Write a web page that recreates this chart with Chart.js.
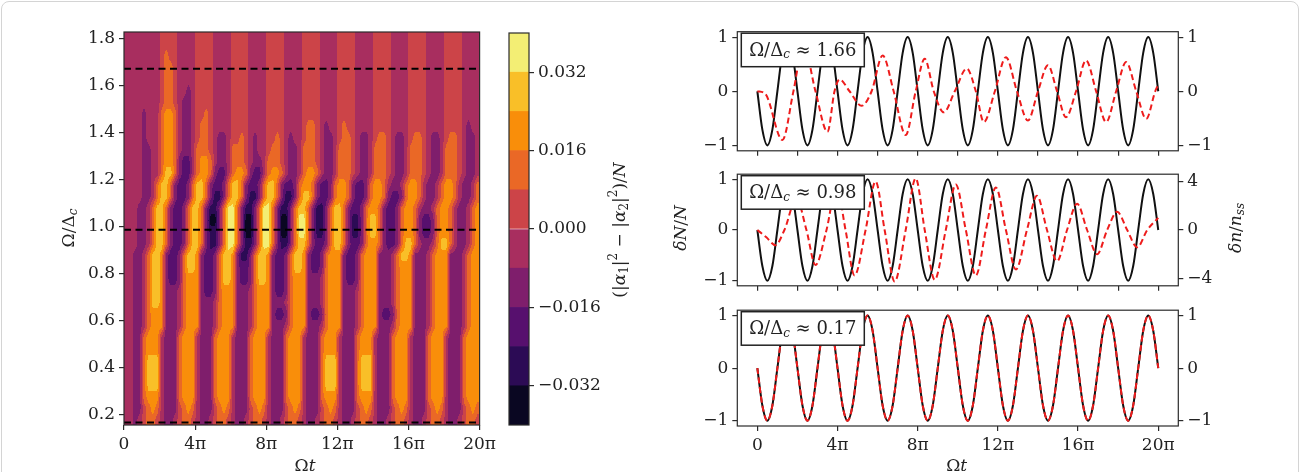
<!DOCTYPE html>
<html>
<head>
<meta charset="utf-8">
<script src="https://cdn.jsdelivr.net/npm/chart.js@4.4.1/dist/chart.umd.min.js"></script>
<style>
  html, body { margin: 0; padding: 0; background: #fff; }
  #fig { position: relative; width: 1300px; height: 472px; overflow: hidden; background: #fff; }
  #fig canvas { position: absolute; }
  #frame { position: absolute; left: 1px; top: 1px; width: 1296px; height: 490px; border: 1px solid #d4d4d4; border-radius: 8px; pointer-events: none; }
</style>
</head>
<body>
<div id="fig">
  <canvas id="heat" width="500" height="490" style="left:0;top:0"></canvas>
  <canvas id="cbar" width="160" height="472" style="left:500px;top:0"></canvas>
  <canvas id="top" width="640" height="165" style="left:660px;top:0"></canvas>
  <canvas id="mid" width="640" height="140" style="left:660px;top:160px"></canvas>
  <canvas id="bot" width="640" height="194" style="left:660px;top:296px"></canvas>
  <div id="frame"></div>
</div>
<script>
"use strict";

// ---- data (time in units of pi) ----

// heat map: one string per row (top row first), one digit per cell = contour band index (0 = lowest)
const hmOmegaLow = [1.80, 1.75, 1.70, 1.65, 1.60, 1.55, 1.50, 1.45, 1.40, 1.35, 1.30, 1.25,
  1.20, 1.15, 1.10, 1.05, 1.00, 0.95, 0.90, 0.85, 0.80, 0.75, 0.70, 0.65, 0.60, 0.55,
  0.50, 0.45, 0.40, 0.35, 0.30, 0.25, 0.20, 0.15];
const hmOmegaStep = 0.05;
const hmTimeStep = 0.25;
const hmRows = [
  "44444444 55554444 55554444 55554444 55554444 55554444 55554444 55554444 55554444 55554444",
  "44444444 55554444 55554444 55554444 55554444 55554444 55554444 55554444 55554444 55554444",
  "44444444 56554444 55554444 55554444 55554444 55554444 55554444 55554444 55554444 55554444",
  "44444444 56654444 55554444 55554444 55554444 55554444 55554444 55554444 55554444 55554444",
  "44444444 56654444 55554444 55554444 55554444 55554444 55554444 55554444 55554444 55554444",
  "44444444 56654434 55554444 55554444 55554444 55554444 55554444 55554444 55554444 55554444",
  "44444444 56654334 55554444 55554444 55554444 55554444 55554444 55554444 55554444 55554444",
  "44443444 67764334 55654444 55554444 55554444 55554444 55554444 55554444 55554444 55554444",
  "44443444 67764334 56654444 55554444 55554444 56654344 56554444 55554444 55554444 55554344",
  "44443444 67764334 56654334 55654344 55654344 56654334 56654334 56654334 56654334 56654334",
  "44443344 67764334 66654334 66654344 56654334 66654334 66654334 66654334 66654334 66654334",
  "44443344 67763224 67764334 66654334 66654334 66654334 66654334 66654334 66654334 66654334",
  "44443344 68863224 67763224 67763224 67764334 67764334 66654334 66654334 66654334 66654334",
  "44443346 88632236 88632236 88632236 88632236 77632236 77632236 77643346 77643346 77643346",
  "44443346 88632236 88631136 88631136 88631136 88632236 77632236 77632236 77643346 77643346",
  "44433468 86322368 86311369 96311369 96311368 86311368 86322367 76322367 76433467 76433467",
  "44433468 86322368 86300369 96300369 96300369 96311368 86311368 86322367 76322367 76433467",
  "44433468 86322368 86311369 96300369 96300369 96311368 86311368 86322367 76322367 76433467",
  "44433468 86322368 86311369 96311369 96311368 86322368 86322367 76322368 86433468 86433467",
  "44334688 73223688 73223688 73113688 73223688 73223677 73223677 73334688 73334677 73334677",
  "44334688 73223688 73223688 73223688 73223688 73223677 73223677 73334677 73334677 73334677",
  "44334688 73223677 73223688 73223688 73223677 73334677 73223677 73334677 73334677 73334677",
  "44334688 73334677 73223677 73334677 73223677 73334677 73334677 73334677 73334677 73334677",
  "44334688 73334677 73334677 73334677 73334677 73334677 73334677 73334677 73334677 73334677",
  "44334677 73334677 73334677 73334677 73223677 73223677 73334677 73223677 73334677 73334677",
  "44334677 73334677 73334677 73334677 73334677 73334677 73334677 73334677 73334677 73334677",
  "44336777 43336777 43336777 43336777 43336777 43336777 43336777 43336777 43336777 43336777",
  "44336777 43336777 43336777 43336777 43336777 43336777 43336777 43336777 43336777 43336777",
  "44336888 43336777 43336777 43336777 43336777 43336888 43336888 43336777 43336777 43336777",
  "44336888 43336777 43336777 43336777 43336777 43336888 43336888 43336777 43336777 43336777",
  "44336888 43336777 43336777 43336777 43336777 43336888 43336888 43336777 43336777 43336777",
  "44336777 43336777 43336777 43336777 43336777 43336777 43336777 43336777 43336777 43336777",
  "44335676 43335676 43335676 43335676 43335676 43335676 43335676 43335676 43335676 43335676",
  "44345665 43345665 43345665 43345665 43345665 43345665 43345665 43345665 43345665 43345665"
];
const dashOmegas = [1.67, 0.985, 0.165];
const hmXTicks = [0, 4, 8, 12, 16, 20];
const hmXLabels = ["0", "4π", "8π", "12π", "16π", "20π"];
const hmYTicks = [0.2, 0.4, 0.6, 0.8, 1.0, 1.2, 1.4, 1.6, 1.8];

// colour bar
const cbLevels = [-0.04, -0.032, -0.024, -0.016, -0.008, 0, 0.008, 0.016, 0.024, 0.032, 0.04];
const cbTicks = [-0.032, -0.016, 0, 0.016, 0.032];
const levelColors = ["#0a0722", "#2c0b55", "#57106e", "#7f1e6c", "#a82e5f",
  "#cc4448", "#ea6826", "#f98e0a", "#f9bf28", "#f3ee74"];

// right panels: black curve dN/N, sampled every pi/4
const blackVals = [
  0, -0.71, -1, -0.71, 0, 0.71, 1, 0.71,
  0, -0.71, -1, -0.71, 0, 0.71, 1, 0.71,
  0, -0.71, -1, -0.71, 0, 0.71, 1, 0.71,
  0, -0.71, -1, -0.71, 0, 0.71, 1, 0.71,
  0, -0.71, -1, -0.71, 0, 0.71, 1, 0.71,
  0, -0.71, -1, -0.71, 0, 0.71, 1, 0.71,
  0, -0.71, -1, -0.71, 0, 0.71, 1, 0.71,
  0, -0.71, -1, -0.71, 0, 0.71, 1, 0.71,
  0, -0.71, -1, -0.71, 0, 0.71, 1, 0.71,
  0, -0.71, -1, -0.71, 0, 0.71, 1, 0.71,
  0
];
const blackStep = 0.25;

// red dashed dn/n_ss, extrema and zero crossings
const redTopT = [0, 0.4, 1.25, 1.8, 2.3, 2.9, 3.5, 3.85, 4.1, 4.6, 5.2, 5.7, 6.25, 6.8, 7.4, 7.9,
  8.35, 8.8, 9.3, 9.85, 10.45, 10.9, 11.3, 11.85, 12.4, 12.95, 13.5, 14.0, 14.5, 14.95, 15.4,
  15.9, 16.4, 16.9, 17.4, 17.9, 18.4, 18.9, 19.4, 19.85, 20];
const redTopV = [0, -0.05, -0.9, 0, 0.85, 0, -0.75, 0, 0.22, 0, -0.27, 0, 0.66, 0, -0.81, 0,
  0.6, 0, -0.39, 0, 0.42, 0, -0.57, 0, 0.63, 0, -0.54, 0, 0.48, 0, -0.48,
  0, 0.57, 0, -0.57, 0, 0.54, 0, -0.51, 0, 0.12];
const redMidT = [0, 0.45, 0.9, 1.35, 1.95, 2.45, 2.9, 3.45, 3.95, 4.4, 4.85, 5.4, 5.9, 6.35, 6.85,
  7.4, 7.9, 8.35, 8.85, 9.4, 9.9, 10.4, 10.9, 11.4, 11.9, 12.4, 12.9, 13.45, 13.95, 14.45,
  14.95, 15.45, 15.95, 16.45, 16.95, 17.45, 17.95, 18.45, 18.95, 19.45, 20];
const redMidV = [0, -0.6, -1.25, 0, 2.6, 0, -2.88, 0, 3.6, 0, -3.75, 0, 4.0, 0, -4.25,
  0, 4.25, 0, -4.1, 0, 3.75, 0, -3.75, 0, 3.5, 0, -3.25, 0, 2.82, 0,
  -2.58, 0, 2.17, 0, -2.0, 0, 1.5, 0, -1.43, 0, 1.0];

const panelRatios = ["1.66", "0.98", "0.17"];
const sideTicks = [-1, 0, 1];
const midRightTicks = [-4, 0, 4];
const panelMinorX = [0, 2, 4, 6, 8, 10, 12, 14, 16, 18, 20];

// ---- drawing ----
Chart.defaults.font.family = '"DejaVu Serif", serif';
Chart.defaults.font.size = 17;
Chart.defaults.color = "#222";
Chart.defaults.animation = false;

const INK = "#2b2b2b";
const F = '17px "DejaVu Serif"';
const FI = 'italic 17px "DejaVu Serif"';
const FS = '12px "DejaVu Serif"';
const FSI = 'italic 12px "DejaVu Serif"';

const tickGrid = { drawOnChartArea: false, drawTicks: true, tickLength: 5, color: INK, lineWidth: 1.2 };
const minus = (s) => s.replace("-", "−");

function drawRich(ctx, parts, cx, cy, rot) {
  ctx.save();
  ctx.translate(cx, cy);
  ctx.rotate(rot || 0);
  ctx.textBaseline = "middle";
  ctx.textAlign = "left";
  ctx.fillStyle = "#222";
  let w = 0;
  parts.forEach((p) => { ctx.font = p.f; w += ctx.measureText(p.t).width; });
  let xx = -w / 2;
  parts.forEach((p) => {
    ctx.font = p.f;
    ctx.fillText(p.t, xx, p.dy || 0);
    xx += ctx.measureText(p.t).width;
  });
  ctx.restore();
}

const titles = (list) => ({
  id: "titles",
  afterDraw(chart) {
    list.forEach((t) => drawRich(chart.ctx, t.parts, t.x, t.y, t.rot));
  }
});

const frame = {
  id: "frame",
  afterDraw(chart) {
    const { ctx, chartArea: a } = chart;
    ctx.save();
    ctx.strokeStyle = INK;
    ctx.lineWidth = 1.2;
    ctx.strokeRect(a.left, a.top, a.width, a.height);
    ctx.restore();
  }
};

// filled contours: each pixel of the plot area is mapped back to (t, Omega) through the
// chart scales, the band index is taken bilinearly from the cell centres and rounded
const heatCells = {
  id: "heatCells",
  beforeDatasetsDraw(chart) {
    const { ctx, chartArea: a, scales: { x, y } } = chart;
    const grid = hmRows.map((r) => r.replace(/ /g, "").split("").map(Number));
    const nR = grid.length, nC = grid[0].length;
    const rgb = levelColors.map((h) => [1, 3, 5].map((k) => parseInt(h.slice(k, k + 2), 16)));
    const L = Math.round(a.left), T = Math.round(a.top);
    const W = Math.round(a.right) - L, H = Math.round(a.bottom) - T;
    const img = ctx.createImageData(W, H);
    const topCentre = hmOmegaLow[0] + hmOmegaStep / 2;
    const clamp = (v, lo, hi) => Math.max(lo, Math.min(hi, v));
    for (let py = 0; py < H; py++) {
      const w = y.getValueForPixel(T + py + 0.5);
      const fr = clamp((topCentre - w) / hmOmegaStep, 0, nR - 1);
      const r0 = Math.floor(fr), r1 = Math.min(r0 + 1, nR - 1), dr = fr - r0;
      for (let px = 0; px < W; px++) {
        const t = x.getValueForPixel(L + px + 0.5);
        const fc = clamp(t / hmTimeStep - 0.5, 0, nC - 1);
        const c0 = Math.floor(fc), c1 = Math.min(c0 + 1, nC - 1), dc = fc - c0;
        const v = (1 - dr) * ((1 - dc) * grid[r0][c0] + dc * grid[r0][c1]) +
          dr * ((1 - dc) * grid[r1][c0] + dc * grid[r1][c1]);
        const col = rgb[clamp(Math.round(v), 0, 9)];
        const k = (py * W + px) * 4;
        img.data[k] = col[0];
        img.data[k + 1] = col[1];
        img.data[k + 2] = col[2];
        img.data[k + 3] = 255;
      }
    }
    ctx.putImageData(img, L, T);
  }
};

const omegaDelta = [{ t: "Ω/Δ", f: F }, { t: "c", f: FSI, dy: 4 }];
const omegaT = [{ t: "Ω", f: F }, { t: "t", f: FI }];

new Chart(document.getElementById("heat"), {
  type: "scatter",
  data: {
    datasets: dashOmegas.map((w) => ({
      data: [{ x: 0, y: w }, { x: 20, y: w }],
      showLine: true, borderColor: "#000", borderWidth: 2, borderDash: [7, 4.5], pointRadius: 0
    }))
  },
  options: {
    responsive: false, events: [],
    layout: { padding: { left: 0, right: 14, top: 32, bottom: 0 } },
    plugins: { legend: { display: false }, tooltip: { enabled: false } },
    scales: {
      x: {
        type: "linear", min: 0, max: 20,
        afterBuildTicks: (s) => { s.ticks = hmXTicks.map((v) => ({ value: v })); },
        ticks: { padding: 4, maxRotation: 0, autoSkip: false, callback: (v, i) => hmXLabels[i] },
        grid: tickGrid, border: { display: false },
        afterFit: (s) => { s.height = 65; }
      },
      y: {
        min: 0.154, max: 1.826,
        afterBuildTicks: (s) => { s.ticks = hmYTicks.map((v) => ({ value: v })); },
        ticks: { padding: 4, autoSkip: false, callback: (v) => v.toFixed(1) },
        grid: tickGrid, border: { display: false },
        afterFit: (s) => { s.width = 124; }
      }
    }
  },
  plugins: [heatCells, frame, titles([
    { parts: omegaDelta, x: 70, y: 228, rot: -Math.PI / 2 },
    { parts: omegaT, x: 305, y: 467 }
  ])]
});

// colour bar
const cbLabel = [
  { t: "(|", f: F }, { t: "α", f: FI }, { t: "1", f: FS, dy: 4 }, { t: "|", f: F }, { t: "2", f: FS, dy: -7 },
  { t: " − |", f: F }, { t: "α", f: FI }, { t: "2", f: FS, dy: 4 }, { t: "|", f: F }, { t: "2", f: FS, dy: -7 },
  { t: ")/", f: F }, { t: "N", f: FI }
];
new Chart(document.getElementById("cbar"), {
  type: "bar",
  data: {
    labels: [""],
    datasets: cbLevels.slice(0, -1).map((lo, i) => ({
      data: [[lo, cbLevels[i + 1]]],
      backgroundColor: levelColors[i], borderWidth: 0,
      barPercentage: 1, categoryPercentage: 1, grouped: false
    }))
  },
  options: {
    responsive: false, events: [],
    layout: { padding: { left: 9, right: 0, top: 33, bottom: 47 } },
    plugins: { legend: { display: false }, tooltip: { enabled: false } },
    scales: {
      x: { display: false },
      y: {
        position: "right", min: -0.04, max: 0.04,
        afterBuildTicks: (s) => { s.ticks = cbTicks.map((v) => ({ value: v })); },
        ticks: { padding: 4, autoSkip: false, callback: (v) => minus(v.toFixed(3)) },
        grid: tickGrid, border: { display: false },
        afterFit: (s) => { s.width = 131; }
      }
    }
  },
  plugins: [frame, titles([{ parts: cbLabel, x: 121, y: 230, rot: -Math.PI / 2 }])]
});

// right panels
const FB = '18px "DejaVu Serif"';
const ratioBox = (ratio) => ({
  id: "ratioBox",
  afterDraw(chart) {
    const { ctx, chartArea: a } = chart;
    const bx = a.left + 4, by = a.top + 1.5, bw = 123, bh = 33.5;
    ctx.save();
    ctx.fillStyle = "#fff";
    ctx.fillRect(bx, by, bw, bh);
    ctx.strokeStyle = "#222";
    ctx.lineWidth = 1.5;
    ctx.strokeRect(bx, by, bw, bh);
    ctx.restore();
    drawRich(ctx, [{ t: "Ω/Δ", f: FB }, { t: "c", f: FSI, dy: 4 }, { t: " ≈ " + ratio, f: FB }],
      bx + bw / 2, by + bh / 2 + 1);
  }
});

function panel(id, cfg) {
  const blackPts = blackVals.map((v, i) => ({ x: i * blackStep, y: v }));
  return new Chart(document.getElementById(id), {
    type: "line",
    data: {
      datasets: [
        { data: cfg.red, yAxisID: "y2", borderColor: "#ee1c1c", borderWidth: 2, borderDash: [6, 3.5],
          pointRadius: 0, cubicInterpolationMode: "monotone" },
        { data: blackPts, yAxisID: "y", borderColor: "#111", borderWidth: 2,
          pointRadius: 0, cubicInterpolationMode: "monotone" }
      ]
    },
    options: {
      responsive: false, events: [],
      layout: { padding: { left: 0, right: 61.7, top: cfg.padTop, bottom: 0 } },
      plugins: { legend: { display: false }, tooltip: { enabled: false } },
      scales: {
        x: {
          type: "linear", min: -1, max: 21,
          afterBuildTicks: (s) => { s.ticks = cfg.xTicks.map((v) => ({ value: v })); },
          ticks: { display: cfg.xLabels !== null, padding: 4, maxRotation: 0, autoSkip: false,
            callback: (v, i) => (cfg.xLabels ? cfg.xLabels[i] : "") },
          grid: tickGrid, border: { display: false },
          afterFit: (s) => { s.height = cfg.xHeight; }
        },
        y: {
          position: "left", min: -1.1, max: 1.1,
          afterBuildTicks: (s) => { s.ticks = sideTicks.map((v) => ({ value: v })); },
          ticks: { padding: 4, callback: (v) => minus(String(v)) },
          grid: tickGrid, border: { display: false },
          afterFit: (s) => { s.width = 77.3; }
        },
        y2: {
          position: "right", min: -cfg.rightMax, max: cfg.rightMax,
          afterBuildTicks: (s) => { s.ticks = cfg.rightTicks.map((v) => ({ value: v })); },
          ticks: { padding: 4, callback: (v) => minus(String(v)) },
          grid: tickGrid, border: { display: false },
          afterFit: (s) => { s.width = 60; }
        }
      }
    },
    plugins: [frame, ratioBox(cfg.ratio), titles(cfg.titles || [])]
  });
}

const zip = (ts, vs) => ts.map((t, i) => ({ x: t, y: vs[i] }));

panel("top", {
  red: zip(redTopT, redTopV), padTop: 31.7, xHeight: 10.7, xTicks: panelMinorX, xLabels: null,
  rightMax: 1.1, rightTicks: sideTicks, ratio: panelRatios[0]
});
panel("mid", {
  red: zip(redMidT, redMidV), padTop: 7.3, xHeight: 10.7, xTicks: panelMinorX, xLabels: null,
  rightMax: 4.6, rightTicks: midRightTicks, ratio: panelRatios[1],
  titles: [
    { parts: [{ t: "δN", f: FI }, { t: "/", f: F }, { t: "N", f: FI }], x: 22, y: 68, rot: -Math.PI / 2 },
    { parts: [{ t: "δn", f: FI }, { t: "/", f: F }, { t: "n", f: FI }, { t: "ss", f: FSI, dy: 4 }], x: 577, y: 68, rot: -Math.PI / 2 }
  ]
});
panel("bot", {
  red: blackVals.map((v, i) => ({ x: i * blackStep, y: v })), padTop: 7.3, xHeight: 64,
  xTicks: hmXTicks, xLabels: hmXLabels, rightMax: 1.1, rightTicks: sideTicks, ratio: panelRatios[2],
  titles: [{ parts: omegaT, x: 296.7, y: 171 }]
});
</script>
</body>
</html>
